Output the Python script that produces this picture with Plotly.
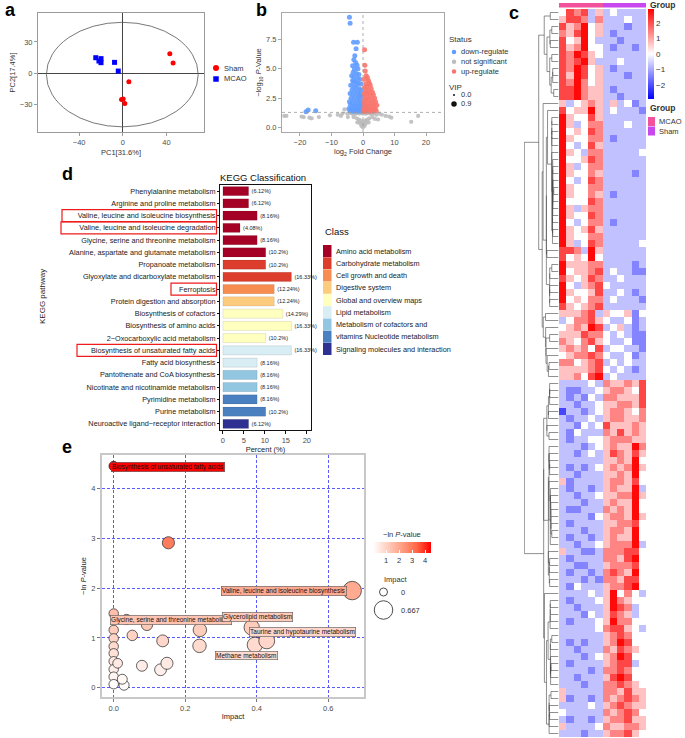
import numpy as np
import plotly.graph_objects as go

W, H = 685, 738
FONT = "Liberation Sans, Arial, Helvetica, sans-serif"


def X(p):
    return p / W


def Y(p):
    return 1 - p / H


# ---------------- Panel a : PCA scores ----------------
sham_pc1 = [43.0, 46.0, 5.5, -1.2, 0.3, 1.8]
sham_pc2 = [18.7, 9.7, -8.4, -25.5, -25.0, -29.4]
mcao_pc1 = [-24.8, -20.0, -21.9, -20.0, -7.6, -4.2]
mcao_pc2 = [14.8, 13.9, 11.6, 10.0, 10.3, 1.9]
pca_xticks = [-40, 0, 40]
pca_yticks = [-30, 0, 30]

# ---------------- Panel b : volcano ----------------
down_fc = [-4.3, -4.1, -3.0, -1.8, -2.2, -2.6, -2.9, -2.3, -3.3, -1.9, -2.7, -1.6, -3.1, -2.1, -1.3,
           -3.6, -2.8, -1.8, -1.0, -3.3, -2.4, -1.5, -0.7, -3.9, -3.0, -2.1, -1.2, -0.5, -3.5, -2.6,
           -1.7, -0.9, -4.1, -3.2, -2.3, -1.4, -0.4, -3.8, -2.9, -2.0, -1.1, -0.6, -4.3, -3.4, -2.5,
           -1.6, -0.8, -4.0, -3.1, -2.2, -1.3, -0.4, -4.5, -3.6, -2.7, -1.8, -0.9, -4.1, -3.3, -2.4,
           -1.5, -0.6, -0.2, -1.0, -2.0, -3.0, -18.1, -17.4, -15.0]
down_logp = [9.35, 8.85, 7.25, 7.25, 6.7, 6.1, 5.75, 5.5, 5.25, 5.3, 4.95, 5.0, 4.7, 4.6, 4.5,
             4.4, 4.3, 4.2, 4.1, 4.0, 3.9, 3.8, 3.7, 3.6, 3.5, 3.4, 3.3, 3.2, 3.2, 3.1,
             3.0, 2.9, 2.9, 2.8, 2.7, 2.6, 2.6, 2.5, 2.4, 2.3, 2.3, 2.2, 2.2, 2.1, 2.0,
             2.0, 1.9, 1.9, 1.8, 1.8, 1.7, 1.7, 1.6, 1.6, 1.5, 1.5, 1.5, 1.45, 1.4, 1.4,
             1.4, 1.4, 1.9, 2.7, 3.7, 3.9, 1.35, 1.5, 1.45]
up_fc = [0.5, 0.6, 0.7, 1.0, 1.4, 0.4, 1.7, 2.0, 0.9, 2.3, 1.2, 0.5, 2.6, 1.6, 0.8, 3.0, 2.0, 1.1,
         0.3, 3.3, 2.4, 1.4, 0.6, 3.7, 2.8, 1.8, 0.9, 0.2, 4.0, 3.1, 2.2, 1.3, 0.5, 4.4, 3.5, 2.6,
         1.7, 0.8, 0.2, 3.9, 3.0, 2.1, 1.2, 0.4, 4.2, 3.3, 2.4, 1.5, 0.7, 0.1]
up_logp = [6.6, 5.3, 4.8, 4.4, 4.25, 4.1, 4.0, 3.8, 3.7, 3.6, 3.5, 3.4, 3.3, 3.2, 3.1, 3.0, 2.95,
           2.9, 2.85, 2.8, 2.7, 2.6, 2.55, 2.5, 2.4, 2.35, 2.3, 2.25, 2.2, 2.1, 2.05, 2.0, 1.95,
           1.9, 1.85, 1.8, 1.75, 1.7, 1.65, 1.6, 1.55, 1.5, 1.5, 1.45, 1.45, 1.4, 1.4, 1.4, 1.4, 1.4]
ns_fc = [-25.0, -24.3, -19.5, -18.8, -17.0, -16.3, -14.0, -5.9, -10.5, -8.0, -6.5, -5.0, -4.2, -3.5,
         -2.8, -2.2, -1.6, -1.1, -0.6, -0.2, 0.2, 0.6, 1.1, 1.6, 2.2, 2.8, 3.5, 4.3, 5.2, 6.0, 7.2,
         8.3, 9.0, 15.3, 17.5, -3.0, -2.0, -1.3, -0.7, 0.0, 0.7, 1.3, 2.0, 3.0, -1.8, -0.9, 0.1,
         0.9, 1.8, -0.5, 0.5, -1.2, 1.2, 0.0, -0.3, 0.3, 3.8, -4.8, 4.8, -7.0]
ns_logp = [1.0, 1.0, 0.95, 0.9, 0.85, 0.8, 0.9, 1.55, 1.05, 1.1, 1.2, 1.2, 1.25, 1.2, 1.15, 1.2,
           1.25, 1.2, 1.25, 1.2, 1.25, 1.2, 1.2, 1.25, 1.2, 1.15, 1.2, 1.1, 1.2, 1.1, 1.0, 0.95,
           0.85, 0.5, 1.0, 0.9, 0.8, 0.7, 0.6, 0.5, 0.6, 0.7, 0.8, 0.9, 0.45, 0.35, 0.25, 0.35,
           0.45, 0.15, 0.15, 0.55, 0.55, 0.05, 0.4, 0.4, 0.75, 0.9, 0.7, 1.0]
p_cut = 1.3
volcano_xticks = [-20, -10, 0, 10, 20]
volcano_yticks = [0, 2.5, 5, 7.5]
status_names = ["down-regulate", "not significant", "up-regulate"]
status_colors = ["#619CFF", "#BDBDBD", "#F8766D"]
vip_labels = ["0.0", "0.9"]

# ---------------- Panel c : heatmap (z-score levels, digit d -> (d-4)*0.7) ----------------
heat_rows = [
    "476735343333", "577636333433", "756845333233", "657845323333", "745843332333",
    "756844323323", "768754333333", "767853334333", "768745323333", "758745333233",
    "768645333333", "778655323333", "778655332333", "534565353423", "745585343332",
    "854475333333", "853466333433", "845476333333", "854466323333", "843475333333",
    "854366333334", "844576333333", "853466333333", "854465333323", "843476333333",
    "854466333333", "854465323333", "844476333333", "853566333333", "854476333333",
    "843466323333", "854575333333", "854466333333", "853476333334", "776385333333",
    "745484333333", "855566333323", "845567343322", "754576334333", "843567433333",
    "854457334323", "845466343332", "754567333333", "555673544524", "346675433423",
    "456587345323", "555766434322", "654675433422", "565647344332", "456676433423",
    "664567343433", "555567434323", "556478343333", "333343655657", "322334566547",
    "323243665557", "332334556657", "133234566546", "323343566556", "332434755565",
    "324333657565", "323344566655", "333234565586", "332343576575", "333333556584",
    "323234565685", "332333556584", "523333566574", "323323565583", "332334556685",
    "333233565584", "322333656584", "333324566585", "323333556674", "333233566584",
    "323323565584", "332334566683", "533223666774", "323333665784", "332233566674",
    "323323676584", "333232665774", "324333566784", "333343584643", "323334586544",
    "332333587634", "333243576534", "323334586644", "333334677543", "333333567644",
    "323233568744", "332333657654", "333234568744", "323333567734", "333323667644",
    "332333578744", "333233667654", "533333665755", "523323656765", "333343567655",
    "433333656764", "323323566755", "533334655665", "333233566754",
]
sample_groups = ["MCAO"] * 6 + ["Sham"] * 6
group_names = ["MCAO", "Sham"]
group_colors = ["#F2529C", "#C847EE"]
heat_ticks = [-2, -1, 0, 1, 2]

# ---------------- Panel d : KEGG classification ----------------
pathways = [
    "Phenylalanine metabolism", "Arginine and proline metabolism",
    "Valine, leucine and isoleucine biosynthesis", "Valine, leucine and isoleucine degradation",
    "Glycine, serine and threonine metabolism", "Alanine, aspartate and glutamate metabolism",
    "Propanoate metabolism", "Glyoxylate and dicarboxylate metabolism", "Ferroptosis",
    "Protein digestion and absorption", "Biosynthesis of cofactors", "Biosynthesis of amino acids",
    "2\u2212Oxocarboxylic acid metabolism", "Biosynthesis of unsaturated fatty acids",
    "Fatty acid biosynthesis", "Pantothenate and CoA biosynthesis",
    "Nicotinate and nicotinamide metabolism", "Pyrimidine metabolism", "Purine metabolism",
    "Neuroactive ligand\u2212receptor interaction",
]
percents = [6.12, 6.12, 8.16, 4.08, 8.16, 10.2, 10.2, 16.33, 12.24, 12.24, 14.29, 16.33, 10.2,
            16.33, 8.16, 8.16, 8.16, 8.16, 10.2, 6.12]
pathway_class = [
    "Amino acid metabolism"] * 6 + ["Carbohydrate metabolism"] * 2 + [
    "Cell growth and death", "Digestive system"] + ["Global and overview maps"] * 3 + [
    "Lipid metabolism"] * 2 + ["Metabolism of cofactors and vitamins"] * 2 + [
    "Nucleotide metabolism"] * 2 + ["Signaling molecules and interaction"]
class_names = ["Amino acid metabolism", "Carbohydrate metabolism", "Cell growth and death",
               "Digestive system", "Global and overview maps", "Lipid metabolism",
               "Metabolism of cofactors and vitamins", "Nucleotide metabolism",
               "Signaling molecules and interaction"]
class_colors = ["#A50026", "#DC3D2D", "#F88D52", "#FDCB7E", "#FFFFBF", "#D8EDF4", "#93C6E0",
                "#4A80BF", "#2E3192"]
class_legend_labels = ["Amino acid metabolism", "Carbohydrate metabolism", "Cell growth and death",
                       "Digestive system", "Global and overview maps", "Lipid metabolism",
                       "Metabolism of cofactors and", "vitamins Nucleotide metabolism",
                       "Signaling molecules and interaction"]
kegg_xticks = [0, 5, 10, 15, 20]
boxed_pathways = {  # highlighted labels -> left edge of red frame (px)
    "Valine, leucine and isoleucine biosynthesis": 62,
    "Valine, leucine and isoleucine degradation": 61,
    "Ferroptosis": 171,
    "Biosynthesis of unsaturated fatty acids": 77,
}

# ---------------- Panel e : pathway impact bubbles ----------------
impact = [0.0, 0.153, 0.667, 0.036, 0.0, 0.093, 0.0, 0.0, 0.0, 0.0, 0.0, 0.0, 0.0, 0.0, 0.029,
          0.024, 0.011, 0.052, 0.079, 0.137, 0.131, 0.149, 0.241, 0.240, 0.386, 0.395, 0.428]
neg_ln_p = [4.45, 2.91, 1.95, 1.37, 1.49, 1.26, 1.16, 0.99, 0.83, 0.69, 0.53, 0.37, 0.22, 0.07,
            0.05, 0.17, 0.49, 1.05, 0.44, 0.94, 0.36, 0.49, 1.16, 0.84, 1.21, 0.86, 0.94]
bubble_names = ["Biosynthesis of unsaturated fatty acids", "", "Valine, leucine and isoleucine biosynthesis",
                "Glycine, serine and threonine metabolism"] + [""] * 20 + [
                "Glycerolipid metabolism", "Methane metabolism", "Taurine and hypotaurine metabolism"]
# label placement (data coords of label box), as drawn by the repel layout
label_place = {
    "Biosynthesis of unsaturated fatty acids": (-0.008, 4.44, "left"),
    "Valine, leucine and isoleucine biosynthesis": (0.476, 1.95, "center"),
    "Glycine, serine and threonine metabolism": (0.160, 1.35, "center"),
    "Glycerolipid metabolism": (0.402, 1.41, "center"),
    "Taurine and hypotaurine metabolism": (0.528, 1.11, "center"),
    "Methane metabolism": (0.370, 0.65, "center"),
}
impact_xticks = [0.0, 0.2, 0.4, 0.6]
impact_yticks = [0, 1, 2, 3, 4]
impact_legend = [0, 0.667]
p_scale = [[0, "#FFFFFF"], [0.25, "#FFCFBF"], [0.5, "#FF9E82"], [0.75, "#FF6846"], [1, "#FF0000"]]
p_max = 4.45

TICKC = "#4D4D4D"
fig = go.Figure()
shapes, annos = [], []


def txt(x, y, s, size=7.5, anchor="left", color="#333333", bold=False, angle=0, **kw):
    if bold:
        s = "<b>" + s + "</b>"
    annos.append(dict(x=X(x), y=Y(y), xref="paper", yref="paper", text=s, showarrow=False,
                      xanchor=anchor, yanchor="middle", textangle=angle,
                      font=dict(size=size, color=color, family=FONT), **kw))


def mark(cx, cy, d, color, kind="circle", line=None):
    shapes.append(dict(type=kind, xref="paper", yref="paper", x0=X(cx - d / 2), x1=X(cx + d / 2),
                       y0=Y(cy + d / 2), y1=Y(cy - d / 2), fillcolor=color,
                       line=dict(width=0 if line is None else 0.8, color=line or color)))


def base_axis(domain, anchor, **kw):
    d = dict(domain=domain, anchor=anchor, showgrid=False, zeroline=False, showline=True,
             mirror=True, ticks="outside", ticklen=3, tickwidth=0.8,
             tickfont=dict(size=7.5, color=TICKC, family=FONT))
    d.update(kw)
    return d


# ================= Panel a =================
fig.add_trace(go.Scatter(x=sham_pc1, y=sham_pc2, mode="markers", xaxis="x", yaxis="y",
                         marker=dict(color="#FF0000", size=5, symbol="circle"), showlegend=False))
fig.add_trace(go.Scatter(x=mcao_pc1, y=mcao_pc2, mode="markers", xaxis="x", yaxis="y",
                         marker=dict(color="#0000FF", size=5, symbol="square"), showlegend=False))
shapes.append(dict(type="circle", xref="x", yref="y", x0=-70, x1=69, y0=-52, y1=49,
                   line=dict(color="#555555", width=0.8)))
ax_a = dict(linecolor="#9A9A9A", tickcolor="#9A9A9A", zeroline=True, zerolinecolor="#444444",
            zerolinewidth=0.8)
layout_axes = dict(
    xaxis=base_axis([X(38), X(204)], "y", range=[-77.7, 74.3], tickvals=pca_xticks,
                    title=dict(text="PC1[31.6%]", font=dict(size=7.5, color="#333"), standoff=3), **ax_a),
    yaxis=base_axis([Y(132), Y(13)], "x", range=[-57, 58], tickvals=pca_yticks,
                    title=dict(text="PC2[17.4%]", font=dict(size=7.5, color="#333"), standoff=3), **ax_a),
)
mark(216, 68, 6, "#FF0000")
mark(216, 79, 5.5, "#0000FF", "rect")
txt(222, 68, "Sham")
txt(222, 79, "MCAO")

# ================= Panel b =================
for xs, ys, col, sz in [(ns_fc, ns_logp, status_colors[1], 4.2), (down_fc, down_logp, status_colors[0], 5),
                        (up_fc, up_logp, status_colors[2], 5)]:
    fig.add_trace(go.Scatter(x=xs, y=ys, mode="markers", xaxis="x2", yaxis="y2", showlegend=False,
                             marker=dict(color=col, size=sz, opacity=0.9, line=dict(width=0))))
shapes.append(dict(type="line", xref="x2 domain", yref="y2", x0=0, x1=1, y0=p_cut, y1=p_cut,
                   line=dict(color="#9A9A9A", width=0.8, dash="dot")))
shapes.append(dict(type="line", xref="x2", yref="y2 domain", x0=0, x1=0, y0=0, y1=1,
                   line=dict(color="#9A9A9A", width=0.8, dash="dot")))
ax_b = dict(linecolor="#A8A8A8", tickcolor="#A8A8A8")
layout_axes["xaxis2"] = base_axis([X(282), X(444)], "y2", range=[-25.7, 25.7], tickvals=volcano_xticks,
                                  title=dict(text="log<sub>2</sub> Fold Change", font=dict(size=7.5, color="#333"),
                                             standoff=2), **ax_b)
layout_axes["yaxis2"] = base_axis([Y(132), Y(13)], "x2", range=[-0.36, 9.72], tickvals=volcano_yticks,
                                  ticktext=["0.0", "2.5", "5.0", "7.5"],
                                  title=dict(text="\u2212log<sub>10</sub> <i>P</i>-Value",
                                             font=dict(size=7.5, color="#333"), standoff=3), **ax_b)
txt(447, 39, "Status", size=8)
for i, (nm, col) in enumerate(zip(status_names, status_colors)):
    mark(454, 52 + 9.7 * i, 4.5, col)
    txt(459, 52 + 9.7 * i, nm)
txt(447, 87, "VIP", size=8)
mark(454, 95, 2, "#111111")
mark(454, 104, 5.5, "#111111")
txt(459, 95, vip_labels[0])
txt(459, 104, vip_labels[1])

# ================= Panel c =================
Z = np.array([[(int(c) - 4) * 0.7 for c in r] for r in heat_rows])
n_rows, n_cols = Z.shape
fig.add_trace(go.Heatmap(
    z=Z, x=list(range(n_cols)), y=list(range(n_rows)), xaxis="x3", yaxis="y3",
    colorscale=[[0, "#0000FF"], [0.5, "#FFFFFF"], [1, "#FF0000"]], zmin=-2.9, zmax=2.9,
    colorbar=dict(x=X(648), xanchor="left", y=Y(9), yanchor="top", len=90, lenmode="pixels",
                  thickness=6, xpad=0, ypad=0, outlinewidth=0, tickvals=heat_ticks, ticks="",
                  tickfont=dict(size=8, color="#333", family=FONT)),
    hoverinfo="skip"))
gidx = [group_names.index(g) for g in sample_groups]
fig.add_trace(go.Heatmap(
    z=[gidx], x=list(range(n_cols)), y=[0], xaxis="x4", yaxis="y4", showscale=False,
    colorscale=[[0, group_colors[0]], [0.5, group_colors[0]], [0.5, group_colors[1]], [1, group_colors[1]]],
    zmin=0, zmax=1, hoverinfo="skip"))

# row dendrogram: adjacency-constrained average linkage on the displayed row order
D = np.sqrt(((Z[:, None, :] - Z[None, :, :]) ** 2).sum(-1))
clusters = [dict(m=[i], pos=float(i), h=0.0) for i in range(n_rows)]
seg_x, seg_y = [], []
while len(clusters) > 1:
    best, bj = None, 0
    for j in range(len(clusters) - 1):
        dd = D[np.ix_(clusters[j]["m"], clusters[j + 1]["m"])].mean()
        if best is None or dd < best:
            best, bj = dd, j
    A, B = clusters[bj], clusters[bj + 1]
    h = max(best, A["h"], B["h"])
    seg_x += [A["h"], h, h, B["h"], None]
    seg_y += [A["pos"], A["pos"], B["pos"], B["pos"], None]
    clusters[bj:bj + 2] = [dict(m=A["m"] + B["m"], pos=(A["pos"] + B["pos"]) / 2, h=h)]
hmax = clusters[0]["h"]
fig.add_trace(go.Scatter(x=seg_x, y=seg_y, mode="lines", xaxis="x5", yaxis="y5", showlegend=False,
                         line=dict(color="#444444", width=0.6), hoverinfo="skip"))
hide = dict(visible=False, showgrid=False, zeroline=False)
layout_axes["xaxis3"] = dict(domain=[X(559), X(646)], anchor="y3", range=[-0.5, n_cols - 0.5], **hide)
layout_axes["yaxis3"] = dict(domain=[Y(737), Y(9)], anchor="x3", range=[n_rows - 0.5, -0.5], **hide)
layout_axes["xaxis4"] = dict(domain=[X(559), X(646)], anchor="y4", range=[-0.5, n_cols - 0.5], **hide)
layout_axes["yaxis4"] = dict(domain=[Y(7.5), Y(3)], anchor="x4", range=[-0.5, 0.5], **hide)
layout_axes["xaxis5"] = dict(domain=[X(524), X(558.5)], anchor="y5", range=[hmax * 1.01, 0], **hide)
layout_axes["yaxis5"] = dict(domain=[Y(737), Y(9)], anchor="x5", range=[n_rows - 0.5, -0.5], **hide)
txt(648, 5, "Group", size=8.5, bold=True)
txt(648, 108, "Group", size=8.5, bold=True)
for i, (g, col) in enumerate(zip(group_names, group_colors)):
    shapes.append(dict(type="rect", xref="paper", yref="paper", x0=X(648), x1=X(655),
                       y0=Y(126 + 9.5 * i), y1=Y(117 + 9.5 * i), fillcolor=col, line=dict(width=0)))
    txt(657, 121.5 + 9.5 * i, g, size=7.5)

# ================= Panel d =================
for cname, col in zip(class_names, class_colors):
    idx = [i for i, c in enumerate(pathway_class) if c == cname]
    fig.add_trace(go.Bar(
        x=[percents[i] for i in idx], y=[pathways[i] for i in idx], orientation="h",
        xaxis="x6", yaxis="y6", width=0.74, marker=dict(color=col, line=dict(color="rgba(0,0,0,0.18)", width=0.5)),
        text=["(%g%%)" % percents[i] for i in idx], textposition="outside", constraintext="none",
        textfont=dict(size=5.5, color="#222", family=FONT), cliponaxis=False, showlegend=False,
        name=cname))
layout_axes["xaxis6"] = base_axis([X(220), X(311)], "y6", range=[-0.7, 21], tickvals=kegg_xticks,
                                  linecolor="#111", tickcolor="#111",
                                  title=dict(text="Percent (%)", font=dict(size=7.5, color="#222"), standoff=2))
layout_axes["yaxis6"] = base_axis([Y(430), Y(185)], "x6", type="category", categoryorder="array",
                                  categoryarray=pathways, autorange="reversed", linecolor="#111",
                                  tickcolor="#111", ticklen=2,
                                  tickfont=dict(size=7.3, color="#222", family=FONT))
for name, left in boxed_pathways.items():
    i = pathways.index(name)
    shapes.append(dict(type="rect", xref="paper", yref="y6", x0=X(left), x1=X(216.5), y0=i - 0.49,
                       y1=i + 0.49, line=dict(color="#EE1C1C", width=1.2)))
txt(263, 178, "KEGG Classification", size=9.5, anchor="center", color="#111")
txt(42, 297, "KEGG pathway", size=8, anchor="center", angle=-90, color="#222")
txt(323, 232, "Class", size=9.5, color="#111")
for i, (lab, col) in enumerate(zip(class_legend_labels, class_colors)):
    cy = 251 + 12.25 * i
    shapes.append(dict(type="rect", xref="paper", yref="paper", x0=X(323), x1=X(331.5),
                       y0=Y(cy + 6), y1=Y(cy - 6), fillcolor=col, line=dict(width=0)))
    txt(334, cy, lab, size=7.3, color="#222")

# ================= Panel e =================
d0, d1 = 9.5, 18.5
imp_max = max(impact)
sizes = [float(np.sqrt(d0 ** 2 + (d1 ** 2 - d0 ** 2) * v / imp_max)) for v in impact]
fig.add_trace(go.Scatter(
    x=impact, y=neg_ln_p, mode="markers", xaxis="x7", yaxis="y7", showlegend=False,
    marker=dict(size=sizes, color=neg_ln_p, coloraxis="coloraxis", opacity=1,
                line=dict(color="#222222", width=0.7)),
    hovertext=bubble_names, hoverinfo="text+x+y"))


def scale_color(v):
    t = min(max(v / p_max, 0), 1)
    for (a, ca), (b, cb) in zip(p_scale[:-1], p_scale[1:]):
        if a <= t <= b:
            f = (t - a) / (b - a)
            c1 = [int(ca[k:k + 2], 16) for k in (1, 3, 5)]
            c2 = [int(cb[k:k + 2], 16) for k in (1, 3, 5)]
            return "rgb(%d,%d,%d)" % tuple(round(c1[k] + (c2[k] - c1[k]) * f) for k in range(3))
    return p_scale[-1][1]


for nm, v in zip(bubble_names, neg_ln_p):
    if not nm:
        continue
    lx, ly, anc = label_place[nm]
    annos.append(dict(x=lx, y=ly, xref="x7", yref="y7", text=nm, showarrow=False, xanchor=anc,
                      yanchor="middle", bgcolor=scale_color(v), bordercolor="#555555", borderwidth=0.6,
                      borderpad=0.5, font=dict(size=6.5, color="#111", family=FONT)))
ax_e = dict(linecolor="#C8C8C8", linewidth=2, tickcolor="#777", showgrid=True, gridcolor="#5A5AFF",
            griddash="3px,2px", gridwidth=0.9)
layout_axes["xaxis7"] = base_axis([X(102), X(364)], "y7", range=[-0.0327, 0.70], tickvals=impact_xticks,
                                  ticktext=["0.0", "0.2", "0.4", "0.6"],
                                  title=dict(text="Impact", font=dict(size=7.5, color="#222"), standoff=2), **ax_e)
layout_axes["yaxis7"] = base_axis([Y(697), Y(455)], "x7", range=[-0.187, 4.673], tickvals=impact_yticks,
                                  title=dict(text="\u2212ln <i>P</i>-value", font=dict(size=7.5, color="#222"),
                                             standoff=4), **ax_e)
txt(401.5, 534, "\u2212ln <i>P</i>-value", size=7.5, anchor="center")
txt(395, 579, "Impact", size=7.5, anchor="center")
for v, cy in zip(impact_legend, [592, 610]):
    dd = float(np.sqrt(d0 ** 2 + (d1 ** 2 - d0 ** 2) * v / imp_max))
    if v == 0:
        dd -= 1.5
    mark(383.5, cy, dd, "white", line="#222222")
    txt(399, cy, "%g" % v if v else "0", size=7.5)

# panel letters
for lt, (lx, ly) in zip("abcde", [(3, 10), (254, 10), (507, 13), (60, 174), (60, 447)]):
    txt(lx, ly, lt, size=18, bold=True, color="#000")

fig.update_layout(
    width=W, height=H, margin=dict(l=0, r=0, t=0, b=0), paper_bgcolor="white", plot_bgcolor="white",
    font=dict(family=FONT, size=8, color="#333"), barmode="overlay", showlegend=False,
    coloraxis=dict(colorscale=p_scale, cmin=0, cmax=p_max,
                   colorbar=dict(orientation="h", x=X(373), xanchor="left", y=Y(542), yanchor="top",
                                 len=58, lenmode="pixels", thickness=11, xpad=0, ypad=0, outlinewidth=0,
                                 tickvals=[1, 2, 3, 4], ticks="inside", tickcolor="white", ticklen=3,
                                 tickfont=dict(size=7.5, color="#333", family=FONT))),
    shapes=shapes, annotations=annos, **layout_axes)

fig.write_html("out.html", config={"displayModeBar": False},
               post_script="document.body.style.margin='0';")
